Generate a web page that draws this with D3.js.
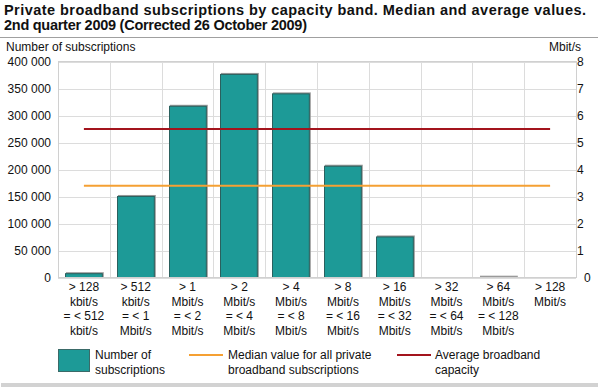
<!DOCTYPE html>
<html>
<head>
<meta charset="utf-8">
<script src="https://cdn.jsdelivr.net/npm/d3@7"></script>
<style>
  body { margin: 0; background: #fff; }
  svg { display: block; font-family: "Liberation Sans", Arial, Helvetica, sans-serif; }
  .grid line { stroke: #dcdcdc; stroke-width: 1; }
  .tick-label { font-size: 12px; fill: #111; }
  .title { font-size: 14.5px; font-weight: bold; fill: #111; }
</style>
</head>
<body>
<svg id="chart" width="598" height="387"></svg>
<script>
// Capacity bands (label lines) and values
const bands = [
  ['> 128', 'kbit/s', '= < 512', 'kbit/s'],
  ['> 512', 'kbit/s', '= < 1', 'Mbit/s'],
  ['> 1', 'Mbit/s', '= < 2', 'Mbit/s'],
  ['> 2', 'Mbit/s', '= < 4', 'Mbit/s'],
  ['> 4', 'Mbit/s', '= < 8', 'Mbit/s'],
  ['> 8', 'Mbit/s', '= < 16', 'Mbit/s'],
  ['> 16', 'Mbit/s', '= < 32', 'Mbit/s'],
  ['> 32', 'Mbit/s', '= < 64', 'Mbit/s'],
  ['> 64', 'Mbit/s', '= < 128', 'Mbit/s'],
  ['> 128', 'Mbit/s']
];
const subscriptions = [8000, 151000, 318000, 377000, 341000, 207000, 76000, 0, 1500, 0];
const medianMbit = 3.4;
const averageMbit = 5.5;

const leftTicks = d3.range(0, 400001, 50000);
const rightTicks = d3.range(0, 9, 1);

const titleLines = [
  'Private broadband subscriptions by capacity band. Median and average values.',
  '2nd quarter 2009 (Corrected 26 October 2009)'
];
const titleWidths = [582, 303];

const COL_BAR = '#1d9a97';
const COL_BAR_EDGE = '#2a605e';
const COL_MEDIAN = '#f5a033';
const COL_AVG = '#a3141d';

const svg = d3.select('#chart');
const m = { top: 61.5, left: 58, right: 576, bottom: 277.5 };

const x = d3.scaleBand()
  .domain(d3.range(bands.length))
  .range([m.left, m.right])
  .paddingInner(0.27)
  .paddingOuter(0.135);
const xCat = d3.scaleBand().domain(d3.range(bands.length)).range([m.left, m.right]);
const y = d3.scaleLinear().domain([0, 400000]).range([m.bottom, m.top]);
const y2 = d3.scaleLinear().domain([0, 8]).range([m.bottom, m.top]);

// Title
svg.selectAll('.title').data(titleLines).join('text')
  .attr('class', 'title')
  .attr('x', 4).attr('y', (d, i) => 15 + i * 15)
  .attr('textLength', (d, i) => titleWidths[i])
  .attr('lengthAdjust', 'spacing')
  .text(d => d);

svg.append('line')
  .attr('x1', 0).attr('x2', 598).attr('y1', 37.5).attr('y2', 37.5)
  .attr('stroke', '#a0a0a0').attr('stroke-width', 1);

svg.append('text').attr('class', 'tick-label')
  .attr('x', 6).attr('y', 51).text('Number of subscriptions');
svg.append('text').attr('class', 'tick-label')
  .attr('x', 581).attr('y', 51).attr('text-anchor', 'end').text('Mbit/s');

// Grid
const grid = svg.append('g').attr('class', 'grid');
grid.selectAll('.h').data(leftTicks).join('line')
  .attr('x1', m.left).attr('x2', m.right)
  .attr('y1', d => Math.round(y(d)) + 0.5).attr('y2', d => Math.round(y(d)) + 0.5);
grid.selectAll('.v').data(d3.range(bands.length + 1)).join('line')
  .attr('x1', i => Math.round(m.left + i * xCat.bandwidth()) + 0.5)
  .attr('x2', i => Math.round(m.left + i * xCat.bandwidth()) + 0.5)
  .attr('y1', m.top).attr('y2', m.bottom);

// Left axis labels
svg.selectAll('.yl').data(leftTicks).join('text')
  .attr('class', 'tick-label')
  .attr('x', 51).attr('y', d => y(d) + 4)
  .attr('text-anchor', 'end')
  .text(d => d3.format(',')(d).replace(/,/g, ' '));

// Right axis labels
svg.selectAll('.yr').data(rightTicks).join('text')
  .attr('class', 'tick-label')
  .attr('x', d => d === 0 ? 584 : 577).attr('y', d => y2(d) + 4)
  .text(d => d);

// Bars: shadow + body
const bars = svg.append('g');
bars.selectAll('.shadow').data(subscriptions).join('rect')
  .attr('x', (d, i) => Math.round(x(i)) + 1)
  .attr('y', d => y(d) - 1)
  .attr('width', x.bandwidth())
  .attr('height', d => m.bottom - y(d) + 1)
  .attr('fill', d => d > 0 ? '#9a9a9a' : 'none');
bars.selectAll('.bar').data(subscriptions).join('rect')
  .attr('x', (d, i) => Math.round(x(i)) + 0.5)
  .attr('y', d => y(d) + 0.5)
  .attr('width', x.bandwidth() - 1)
  .attr('height', d => Math.max(0, m.bottom - y(d) - 0.5))
  .attr('fill', d => d > 3000 ? COL_BAR : 'none')
  .attr('stroke', d => d > 3000 ? COL_BAR_EDGE : 'none')
  .attr('stroke-width', 1);

// Plot border
svg.append('rect')
  .attr('x', m.left + 0.5).attr('y', m.top)
  .attr('width', m.right - m.left).attr('height', m.bottom - m.top)
  .attr('fill', 'none').attr('stroke', '#d0d0d0');

// Median and average lines
const cx = i => xCat(i) + xCat.bandwidth() / 2;
const lineData = [
  { v: medianMbit, c: COL_MEDIAN },
  { v: averageMbit, c: COL_AVG }
];
svg.selectAll('.ref').data(lineData).join('line')
  .attr('x1', cx(0)).attr('x2', cx(bands.length - 1))
  .attr('y1', d => y2(d.v)).attr('y2', d => y2(d.v))
  .attr('stroke', d => d.c).attr('stroke-width', 2);

// X labels
const xl = svg.selectAll('.xl').data(bands).join('text')
  .attr('class', 'tick-label')
  .attr('text-anchor', 'middle')
  .attr('transform', (d, i) => `translate(${cx(i)},291)`);
xl.selectAll('tspan').data(d => d).join('tspan')
  .attr('x', 0).attr('y', (d, j) => j * 14.5)
  .text(d => d);

// Legend
const lg = svg.append('g');
lg.append('rect').attr('x', 58.5).attr('y', 349.5).attr('width', 31).attr('height', 22)
  .attr('fill', COL_BAR).attr('stroke', '#3a6a68');
const legendItems = [
  { x: 95, lines: ['Number of', 'subscriptions'] },
  { x: 228, lines: ['Median value for all private', 'broadband subscriptions'], c: COL_MEDIAN, lx: 189 },
  { x: 435, lines: ['Average broadband', 'capacity'], c: COL_AVG, lx: 397 }
];
legendItems.filter(d => d.c).forEach(d => {
  lg.append('line').attr('x1', d.lx).attr('x2', d.lx + 34)
    .attr('y1', 355).attr('y2', 355)
    .attr('stroke', d.c).attr('stroke-width', 2);
});
legendItems.forEach(d => {
  lg.append('text').attr('class', 'tick-label')
    .selectAll('tspan').data(d.lines).join('tspan')
    .attr('x', d.x).attr('y', (t, j) => 359 + j * 15)
    .text(t => t);
});

svg.append('rect').attr('x', 1).attr('y', 383).attr('width', 597).attr('height', 4)
  .attr('fill', '#d2d2d2');
</script>
</body>
</html>
